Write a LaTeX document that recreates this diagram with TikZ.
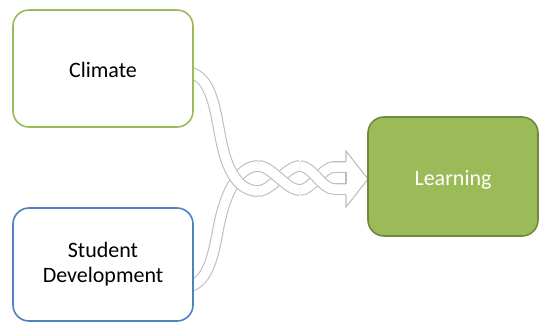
\documentclass[tikz,border=0pt]{standalone}
\usepackage{fontspec}
\setmainfont{Carlito}
\pgfdeclarelayer{bg}
\pgfsetlayers{bg,main}
\definecolor{climgreen}{HTML}{9BBB59}
\definecolor{studblue}{HTML}{4F81BD}
\definecolor{learnfill}{HTML}{9BBB59}
\definecolor{learnborder}{HTML}{71893F}
\definecolor{ribgray}{HTML}{BEBEBE}
\tikzset{
  box/.style={rounded corners=16pt, line width=1.6pt, minimum width=180pt, align=center,
    font=\fontsize{22}{25}\selectfont, inner sep=0pt},
  ribbon/.style={draw=ribgray, line width=1.1pt, double=white, double distance=9.5pt},
  ribline/.style={draw=ribgray, line width=1.1pt, line join=miter},
}
\begin{document}
\begin{tikzpicture}[x=1pt,y=-1pt]
\useasboundingbox (0,0) rectangle (539,322);
\node[box, draw=climgreen, fill=white, minimum height=117pt] (clim) at (103,68.5) {\raisebox{-1.5pt}[\height][\depth]{Climate}};
\node[box, draw=studblue, fill=white, minimum height=113pt] (stud) at (103,264.5) {Student\\Development};
\node[box, draw=learnborder, fill=learnfill, text=white, minimum width=170pt, minimum height=119pt] (learn) at (453,176.5) {\raisebox{-3.5pt}[\height][\depth]{Learning}};
\begin{pgfonlayer}{bg}
% strand B (from Student Development), first part
\draw[ribbon] (188,287) .. controls (210,282) and (214,250) .. (219,225)
  .. controls (224,200) and (236,166) .. (258,166);
% strand A (from Climate), first part, over B
\draw[ribbon] (188,72) .. controls (212,76) and (215,110) .. (221,140)
  .. controls (227,170) and (238,191) .. (258,191);
% A second part
\draw[ribbon] (258,191) .. controls (272,191) and (286,166) .. (300,166);
% B second part, over A
\draw[ribbon] (258,166) .. controls (272,166) and (286,190) .. (300,190);
% B third part
\draw[ribbon] (300,190) .. controls (312,190) and (322,167) .. (334,167) -- (346,167);
% A third part, over B
\draw[ribbon] (300,166) .. controls (312,166) and (322,189) .. (334,189) -- (346,189);
% arrow head
\fill[white] (346,151) -- (368,179) -- (346,207) -- cycle;
\draw[ribline] (346,161.2) -- (346,151) -- (368,179) -- (346,207) -- (346,194.8);
\draw[ribline] (346,172.2) -- (346,183.8);
\end{pgfonlayer}
\end{tikzpicture}
\end{document}
